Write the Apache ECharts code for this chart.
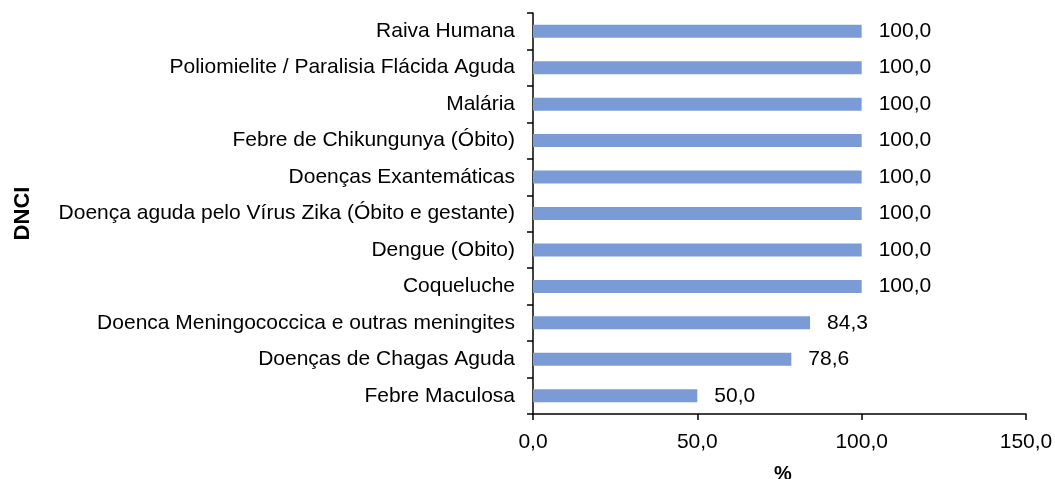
<!DOCTYPE html>
<html>
<head>
<meta charset="utf-8">
<script src="https://cdn.jsdelivr.net/npm/echarts@6/dist/echarts.min.js"></script>
<style>
html,body{margin:0;padding:0;background:#fff;}
#chart{width:1055px;height:479px;}
</style>
</head>
<body>
<div id="chart"></div>
<script>
// categories from bottom to top
const doencas = [
    'Febre Maculosa',
    'Doenças de Chagas Aguda',
    'Doenca Meningococcica e outras meningites',
    'Coqueluche',
    'Dengue (Obito)',
    'Doença aguda pelo Vírus Zika (Óbito e gestante)',
    'Doenças Exantemáticas',
    'Febre de Chikungunya (Óbito)',
    'Malária',
    'Poliomielite / Paralisia Flácida Aguda',
    'Raiva Humana'
];
const percentuais = [50.0, 78.6, 84.3, 100, 100, 100, 100, 100, 100, 100, 100];
const xTicks = [0, 50, 100, 150];

const fmt = v => Number(v).toFixed(1).replace('.', ',');
const font = 'Liberation Sans, Arial, sans-serif';

const chart = echarts.init(document.getElementById('chart'));
chart.setOption({
    animation: false,
    textStyle: { fontFamily: font },
    grid: { left: 533, right: 29, top: 13, bottom: 65, outerBoundsMode: 'none', containLabel: false },
    xAxis: {
        type: 'value',
        min: xTicks[0],
        max: xTicks[xTicks.length - 1],
        interval: 50,
        name: '%',
        nameLocation: 'middle',
        nameGap: 50,
        nameTextStyle: { color: '#000', fontSize: 20, fontWeight: 'bold', fontFamily: font, padding: [0, 0, 0, 7] },
        axisLine: { show: true, lineStyle: { color: '#000', width: 1.5 } },
        axisTick: { show: true, length: 6, lineStyle: { color: '#000', width: 1.5 } },
        axisLabel: { color: '#000', fontSize: 21, margin: 18, formatter: fmt, fontFamily: font },
        splitLine: { show: false }
    },
    yAxis: {
        type: 'category',
        data: doencas,
        name: 'DNCI',
        nameLocation: 'middle',
        nameRotate: 90,
        nameGap: 499,
        nameTextStyle: { color: '#000', fontSize: 22, fontWeight: 'bold', fontFamily: font },
        axisLine: { show: true, lineStyle: { color: '#000', width: 1.5 } },
        axisTick: { show: true, length: 6, lineStyle: { color: '#000', width: 1.5 } },
        axisLabel: { color: '#000', fontSize: 21, margin: 18, fontFamily: font }
    },
    series: [{
        type: 'bar',
        data: percentuais,
        barWidth: 13,
        itemStyle: { color: '#7B9BD6' },
        label: {
            show: true,
            position: 'right',
            distance: 17,
            color: '#000',
            fontSize: 21,
            fontFamily: font,
            formatter: p => fmt(p.value)
        }
    }]
});
</script>
</body>
</html>
